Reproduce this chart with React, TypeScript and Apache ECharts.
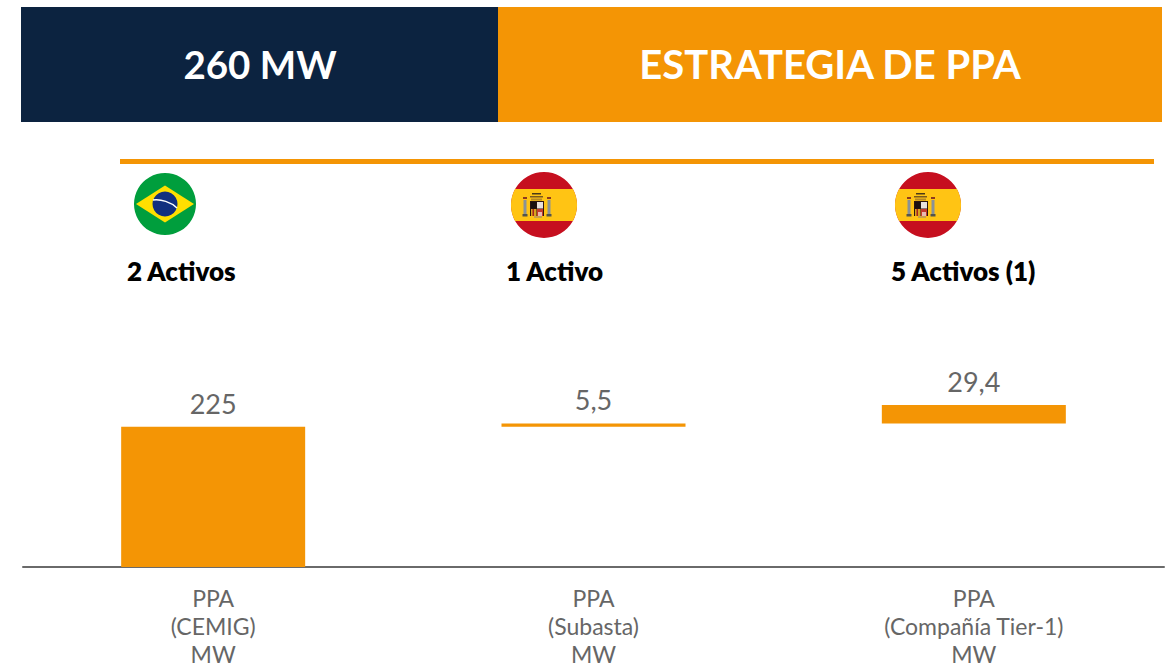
import React, { useEffect, useRef } from "react";
import * as echarts from "echarts";

const categories = ["PPA\n(CEMIG)\nMW", "PPA\n(Subasta)\nMW", "PPA\n(Compañía Tier-1)\nMW"];
const values = [225, 5.5, 29.4];
const valueLabels = ["225", "5,5", "29,4"];
const assetLabels = ["2 Activos", "1 Activo", "5 Activos (1)"];
const headerLeft = "260 MW";
const headerRight = "ESTRATEGIA DE PPA";

const ORANGE = "#F49505";
const NAVY = "#0C2340";
const GREY = "#666666";
const FONT = "Lato, 'Noto Sans', sans-serif";

const band = "M -28.9 -16 L 28.9 -16 A 33 33 0 0 1 28.9 16 L -28.9 16 A 33 33 0 0 1 -28.9 -16 Z";
echarts.graphic.registerShape("spainBand", echarts.graphic.extendPath(band, {}));

function spainFlag(cx: number, cy: number) {
  const r = (x: number, y: number, w: number, h: number, fill: string) => ({
    type: "rect",
    shape: { x, y, width: w, height: h },
    style: { fill },
  });
  return {
    type: "group",
    x: cx,
    y: cy,
    children: [
      { type: "circle", shape: { cx: 0, cy: 0, r: 33 }, style: { fill: "#C60F1F" } },
      { type: "spainBand", x: 0, y: 0, style: { fill: "#FFC414" } },
      r(-20.5, -5, 3, 15, "#8A9296"),
      r(3.5, -5, 3, 15, "#8A9296"),
      r(-21.5, 9, 5, 2.5, "#55554A"),
      r(2.5, 9, 5, 2.5, "#55554A"),
      r(-21, -8, 4, 2, "#8C3A20"),
      r(3, -8, 4, 2, "#8C3A20"),
      r(-12, -12, 9, 1.5, "#4A3A18"),
      r(-14, -9, 13, 1.5, "#7A5A1E"),
      r(-13, -6.5, 11, 2, "#B88A24"),
      r(-14, -4, 14, 15, "#2B1510"),
      r(-13, -3, 5.5, 6.5, "#1A1010"),
      r(-7, -3, 6, 6.5, "#E8E0DC"),
      r(-13, 4, 5.5, 7, "#D9A41E"),
      r(-11.5, 4, 1.5, 7, "#A8231D"),
      r(-7, 4, 6, 7, "#C33A2E"),
      r(-6, 7, 4, 4, "#E8B9B0"),
      r(-10, 11, 8, 2, "#C9A04A"),
    ],
  };
}

function brazilFlag(cx: number, cy: number) {
  return {
    type: "group",
    x: cx,
    y: cy,
    children: [
      { type: "circle", shape: { cx: 0, cy: 0, r: 31 }, style: { fill: "#009E3D" } },
      {
        type: "polygon",
        shape: { points: [[-29, 0], [0, -18.5], [29, 0], [0, 18.5]] },
        style: { fill: "#FFDF00" },
      },
      { type: "circle", shape: { cx: 0, cy: 0, r: 12.5 }, style: { fill: "#12307F" } },
      {
        type: "bezierCurve",
        shape: { x1: -12, y1: -4, x2: 12, y2: 4, cpx1: -4, cpy1: -5, cpx2: 6, cpy2: -2 },
        style: { stroke: "#FFFFFF", lineWidth: 1.5, fill: "none" },
      },
    ],
  };
}

export default function App() {
  const ref = useRef<HTMLDivElement>(null);

  useEffect(() => {
    document.body.style.margin = "0";
    const chart = echarts.init(ref.current!, undefined, { renderer: "svg" });
    const offsets = values.map((_, i) => values.slice(0, i).reduce((a, b) => a + b, 0));
    const headerText = (text: string, x: number, size: number) => ({
      type: "text",
      x,
      y: 63.5,
      style: {
        text,
        fill: "#FFFFFF",
        font: `700 ${size}px ${FONT}`,
        textAlign: "center",
        textVerticalAlign: "middle",
      },
    });
    const assetText = (text: string, x: number) => ({
      type: "text",
      x,
      y: 270.5,
      style: {
        text,
        fill: "#000000",
        font: `800 26px ${FONT}`,
        textAlign: "left",
        textVerticalAlign: "middle",
      },
    });
    chart.setOption({
      animation: false,
      grid: { left: 23, right: 6, top: 405, bottom: 101, outerBoundsMode: "none" },
      xAxis: {
        type: "category",
        data: categories,
        axisTick: { show: false },
        axisLine: { show: true, lineStyle: { color: "#6A6A6A", width: 2 } },
        axisLabel: {
          color: GREY,
          fontFamily: FONT,
          fontSize: 23,
          lineHeight: 28,
          margin: 17,
          interval: 0,
        },
      },
      yAxis: { type: "value", min: 0, max: 260, show: false, splitLine: { show: false } },
      series: [
        {
          type: "bar",
          stack: "w",
          barWidth: 184,
          silent: true,
          itemStyle: { color: "transparent" },
          data: offsets,
        },
        {
          type: "bar",
          stack: "w",
          barWidth: 184,
          itemStyle: { color: ORANGE },
          data: values,
          label: {
            show: true,
            position: "top",
            distance: 10,
            color: GREY,
            fontFamily: FONT,
            fontSize: 27,
            formatter: (p: any) => valueLabels[p.dataIndex],
          },
        },
      ],
      graphic: [
        { type: "rect", shape: { x: 21, y: 7, width: 477, height: 115 }, style: { fill: NAVY } },
        { type: "rect", shape: { x: 498, y: 7, width: 664, height: 115 }, style: { fill: ORANGE } },
        headerText(headerLeft, 260, 38.5),
        headerText(headerRight, 830, 40),
        { type: "rect", shape: { x: 120, y: 159, width: 1034, height: 5 }, style: { fill: ORANGE } },
        brazilFlag(165, 204),
        spainFlag(544, 205),
        spainFlag(928, 205),
        assetText(assetLabels[0], 127),
        assetText(assetLabels[1], 506),
        assetText(assetLabels[2], 891),
      ],
    });
    return () => chart.dispose();
  }, []);

  return <div ref={ref} style={{ width: 1170, height: 668 }} />;
}
